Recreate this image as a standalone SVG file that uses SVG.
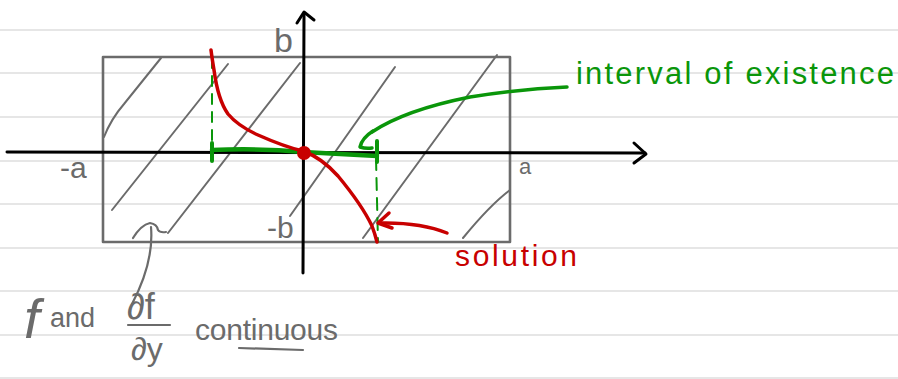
<svg xmlns="http://www.w3.org/2000/svg" width="898" height="379" viewBox="0 0 898 379">
<style>
.rule{stroke:#e6e6e6;stroke-width:2}
.pen{fill:none;stroke:#6b6b6b;stroke-linecap:round;stroke-linejoin:round}
.hatch{fill:none;stroke:#6b6b6b;stroke-width:2;stroke-linecap:round}
.axis{fill:none;stroke:#000;stroke-width:3;stroke-linecap:round;stroke-linejoin:round}
.red{fill:none;stroke:#c80000;stroke-width:3.5;stroke-linecap:round;stroke-linejoin:round}
.green{fill:none;stroke:#0a960a;stroke-linecap:round;stroke-linejoin:round}
.gtxt{fill:#0a960a;font-family:"Liberation Sans",sans-serif}
.rtxt{fill:#c80000;font-family:"Liberation Sans",sans-serif}
.ktxt{fill:#6b6b6b;font-family:"Liberation Sans",sans-serif}
</style>
<rect width="898" height="379" fill="#fff"/>
<g id="ruled-lines">
<line class="rule" x1="0" y1="30" x2="898" y2="30"/>
<line class="rule" x1="0" y1="73" x2="898" y2="73"/>
<line class="rule" x1="0" y1="117" x2="898" y2="117"/>
<line class="rule" x1="0" y1="161" x2="898" y2="161"/>
<line class="rule" x1="0" y1="204" x2="898" y2="204"/>
<line class="rule" x1="0" y1="248" x2="898" y2="248"/>
<line class="rule" x1="0" y1="291" x2="898" y2="291"/>
<line class="rule" x1="0" y1="335" x2="898" y2="335"/>
<line class="rule" x1="0" y1="378" x2="898" y2="378"/>
</g>
<g id="region">
<rect class="pen" x="103" y="57" width="407" height="185" stroke-width="2.6"/>
<path class="hatch" d="M104,137 Q111,119 124,104 L161,58"/>
<path class="hatch" d="M112,210 L228,64"/>
<path class="hatch" d="M168,233 L300,63"/>
<path class="hatch" d="M290,216 L395,67"/>
<path class="hatch" d="M363,238 L497,55"/>
<path class="hatch" d="M463,238 Q490,205 510,190"/>
</g>
<g id="axes">
<line class="axis" x1="7" y1="152" x2="645" y2="153"/>
<path class="axis" d="M634,143 L646,154 L634,163"/>
<line class="axis" x1="303" y1="273" x2="304" y2="14"/>
<path class="axis" d="M297,23 L304,12 L314,20"/>
</g>
<g id="interval">
<path class="green" stroke-width="2" stroke-dasharray="10,8" d="M212,58 L212,148"/>
<path class="green" stroke-width="2" stroke-dasharray="12,8" d="M376,158 L378,242"/>
<path class="green" stroke-width="4.5" d="M212,150 Q260,148 303,152 L377,156"/>
<path class="green" stroke-width="4" d="M212,143 L212,161 M377,141 L377,162"/>
</g>
<g id="solution-curve">
<path class="red" d="M211,50 Q212,58 214,70 Q218,100 228,114 Q238,126 258,135 Q285,147 303,151 Q322,158 338,176 Q362,205 372,226 Q375,234 377,242"/>
<circle cx="304" cy="153" r="7" fill="#c80000"/>
</g>
<g id="connectors">
<path class="green" stroke-width="3.5" d="M567,87 Q520,89 470,97 Q405,110 372,132"/>
<path class="green" stroke-width="3.5" d="M373,131 Q362,138 360,147 Q366,149 372,148"/>
<path class="red" stroke-width="3" d="M447,233 Q420,222 379,223"/>
<path class="red" stroke-width="3" d="M389,213 L378,223 L392,228"/>
<path class="pen" stroke-width="2.2" d="M133,238 Q141,225 150,223 Q157,224 158,230 Q160,233 166,232"/>
<path class="pen" stroke-width="2.2" d="M151,227 Q154,262 132,304"/>
</g>
<g id="labels">
<text class="ktxt" x="274" y="52" font-size="34">b</text>
<text class="ktxt" x="60" y="178" font-size="30">-a</text>
<text class="ktxt" x="519" y="174" font-size="22">a</text>
<text class="ktxt" x="267" y="238" font-size="30">-b</text>
<text class="gtxt" x="576" y="84" font-size="31" textLength="318" lengthAdjust="spacing">interval of existence</text>
<text class="rtxt" x="455" y="266" font-size="30" textLength="122" lengthAdjust="spacing">solution</text>
<g id="condition">
<text class="ktxt" x="24" y="338" font-size="56" font-family="Liberation Serif, serif" font-style="italic">f</text>
<text class="ktxt" x="50" y="327" font-size="27">and</text>
<text class="ktxt" x="127" y="319" font-size="36">∂f</text>
<line x1="128" y1="325" x2="170" y2="325" stroke="#6b6b6b" stroke-width="2.2" stroke-linecap="round"/>
<text class="ktxt" x="131" y="360" font-size="32">∂y</text>
<text class="ktxt" x="195" y="340" font-size="30" textLength="143" lengthAdjust="spacing">continuous</text>
<line x1="239" y1="348" x2="303" y2="350" stroke="#6b6b6b" stroke-width="2.2" stroke-linecap="round"/>
</g>
</g>
</svg>
